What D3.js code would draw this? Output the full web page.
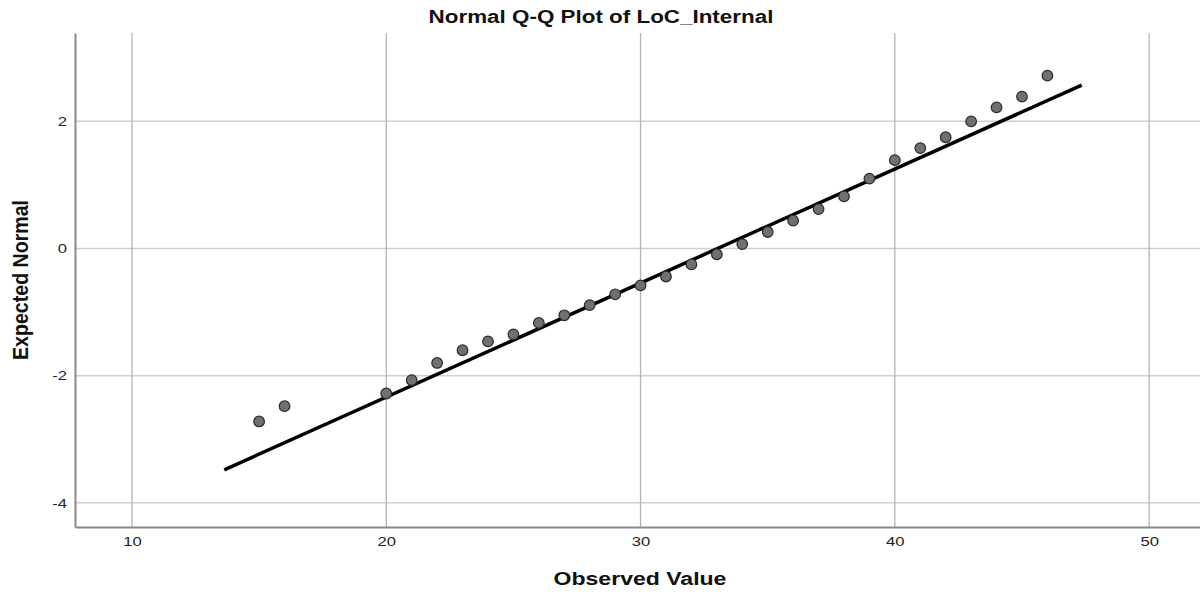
<!DOCTYPE html>
<html>
<head>
<meta charset="utf-8">
<script src="https://cdn.jsdelivr.net/npm/d3@7"></script>
<style>
  html, body { margin: 0; padding: 0; background: #fff; }
  svg { display: block; font-family: "Liberation Sans", Arial, sans-serif; }
</style>
</head>
<body>
<div id="chart"></div>
<script>
// Observed values and their expected normal scores
const observed = [15, 16, 20, 21, 22, 23, 24, 25, 26, 27, 28, 29, 30, 31, 32, 33, 34, 35, 36, 37, 38, 39, 40, 41, 42, 43, 44, 45, 46];
const expected = [-2.72, -2.48, -2.28, -2.07, -1.80, -1.60, -1.46, -1.35, -1.17, -1.05, -0.89, -0.72, -0.58, -0.44, -0.25, -0.09, 0.07, 0.26, 0.44, 0.62, 0.82, 1.10, 1.39, 1.58, 1.75, 2.00, 2.22, 2.39, 2.72];

// Reference line end points (observed, expected)
const lineStart = [13.63, -3.48];
const lineEnd = [47.35, 2.57];

const xTicks = [10, 20, 30, 40, 50];
const yTicks = [-4, -2, 0, 2];

const title = "Normal Q-Q Plot of LoC_Internal";
const xLabel = "Observed Value";
const yLabel = "Expected Normal";

const width = 1200;
const height = 592;
const margin = { top: 33, right: 0, bottom: 65, left: 75 };
const stretch = 1.28; // picture is wider than its fonts

const x = d3.scaleLinear().domain([7.76, 52.0]).range([margin.left, width - margin.right]);
const y = d3.scaleLinear().domain([-4.38, 3.39]).range([height - margin.bottom, margin.top]);

const svg = d3.select("#chart").append("svg")
  .attr("width", width)
  .attr("height", height);

const widen = (sel) => sel.each(function () {
  const w = this.getComputedTextLength();
  d3.select(this).attr("textLength", w * stretch).attr("lengthAdjust", "spacingAndGlyphs");
});

// Grid lines
svg.append("g")
  .selectAll("line")
  .data(yTicks)
  .join("line")
  .attr("x1", margin.left)
  .attr("x2", width)
  .attr("y1", (d) => y(d))
  .attr("y2", (d) => y(d))
  .attr("stroke", "#cfcfcf")
  .attr("stroke-width", 1.5);

svg.append("g")
  .selectAll("line")
  .data(xTicks)
  .join("line")
  .attr("x1", (d) => x(d))
  .attr("x2", (d) => x(d))
  .attr("y1", margin.top)
  .attr("y2", height - margin.bottom)
  .attr("stroke", "#b4b4b4")
  .attr("stroke-width", 1.3);

// Axes
const xAxis = svg.append("g")
  .attr("transform", `translate(0,${height - margin.bottom})`)
  .call(d3.axisBottom(x).tickValues(xTicks).tickFormat((d) => String(d)).tickSize(0).tickPadding(10));
xAxis.select(".domain").attr("stroke", "#8a8a8a").attr("stroke-width", 2);
xAxis.selectAll("text").attr("font-size", 13).attr("fill", "#222").attr("font-family", null).call(widen);

const yAxis = svg.append("g")
  .attr("transform", `translate(${margin.left},0)`)
  .call(d3.axisLeft(y).tickValues(yTicks).tickFormat((d) => String(d)).tickSize(0).tickPadding(8));
yAxis.select(".domain").attr("stroke", "#8a8a8a").attr("stroke-width", 2);
yAxis.selectAll("text").attr("font-size", 13).attr("fill", "#222").attr("font-family", null).call(widen);

// Reference line
svg.append("line")
  .attr("x1", x(lineStart[0]))
  .attr("y1", y(lineStart[1]))
  .attr("x2", x(lineEnd[0]))
  .attr("y2", y(lineEnd[1]))
  .attr("stroke", "#000")
  .attr("stroke-width", 3.5);

// Points
svg.append("g")
  .selectAll("circle")
  .data(observed)
  .join("circle")
  .attr("cx", (d) => x(d))
  .attr("cy", (d, i) => y(expected[i]))
  .attr("r", 5.3)
  .attr("fill", "#707070")
  .attr("stroke", "#2a2a2a")
  .attr("stroke-width", 1.2);

// Title and axis labels
svg.append("text")
  .attr("x", 601)
  .attr("y", 23)
  .attr("text-anchor", "middle")
  .attr("font-size", 17.5)
  .attr("font-weight", "bold")
  .attr("fill", "#111")
  .text(title)
  .call(widen);

svg.append("text")
  .attr("x", 640)
  .attr("y", 585)
  .attr("text-anchor", "middle")
  .attr("font-size", 18)
  .attr("font-weight", "bold")
  .attr("fill", "#111")
  .text(xLabel)
  .call(widen);

svg.append("text")
  .attr("transform", `translate(28,280) rotate(-90) scale(1,${stretch})`)
  .attr("text-anchor", "middle")
  .attr("font-size", 17)
  .attr("font-weight", "bold")
  .attr("fill", "#111")
  .attr("textLength", 160)
  .attr("lengthAdjust", "spacingAndGlyphs")
  .text(yLabel);
</script>
</body>
</html>
